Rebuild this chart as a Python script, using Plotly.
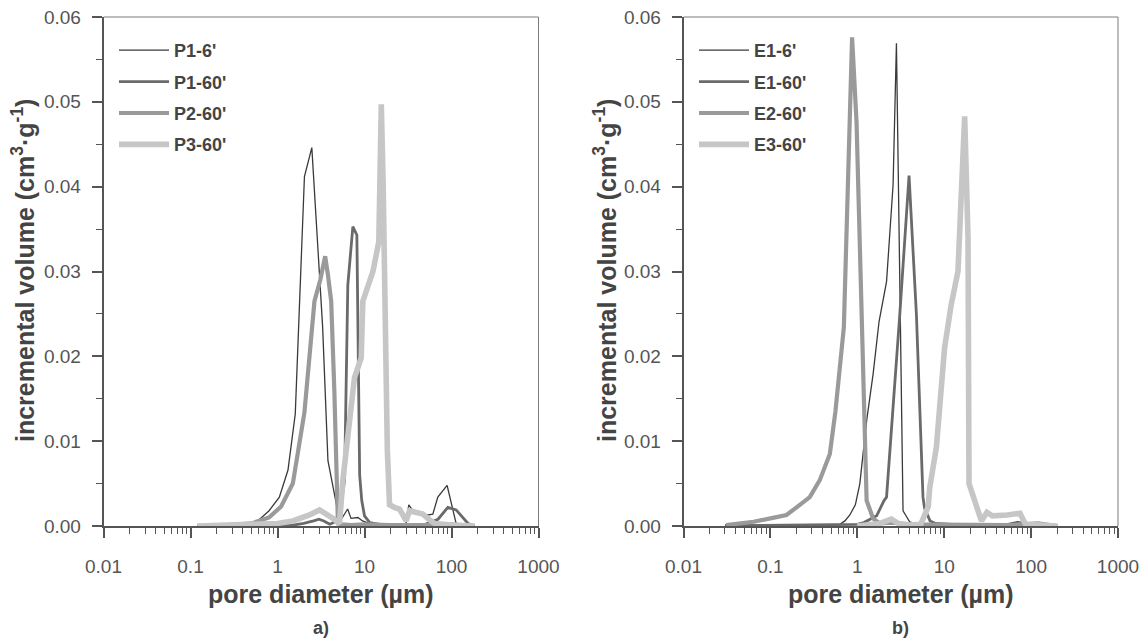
import plotly.graph_objects as go

# ---------------- data: panel a) ----------------
p1_6_x = [0.12, 0.3, 0.55, 0.8, 1.05, 1.32, 1.6, 2.04, 2.48, 3.3, 3.8, 4.35, 5.2, 6.4, 7.0, 8.4, 9.5, 12, 20, 30, 32.3, 37.6, 53.5, 61, 69.6, 89, 113, 150, 184]
p1_6_y = [0, 0, 0.0003, 0.0018, 0.0034, 0.0066, 0.0132, 0.0412, 0.0446, 0.0235, 0.0077, 0.0044, 0.0005, 0.002, 0.0009, 0.001, 0.0006, 0.0002, 0.0001, 0.0003, 0.0025, 0.0015, 0.0013, 0.0014, 0.0034, 0.0048, 0.0003, 0.0001, 0]

p1_60_x = [0.12, 0.5, 1.0, 1.5, 2.0, 2.6, 3.0, 3.4, 4.0, 4.6, 5.3, 5.9, 6.43, 7.35, 8.17, 8.8, 9.3, 10, 11.5, 15, 30, 50, 70, 90.8, 113, 155, 184]
p1_60_y = [0, 0, 0, 0.0001, 0.0003, 0.0006, 0.0008, 0.0006, 0.0002, 0.0005, 0.002, 0.0054, 0.0284, 0.0353, 0.0343, 0.006, 0.003, 0.0012, 0.0004, 0.0002, 0.0001, 0.0002, 0.0008, 0.0022, 0.0019, 0.0003, 0]

p2_60_x = [0.12, 0.3, 0.5, 0.8, 1.1, 1.5, 2.04, 2.33, 2.66, 3.1, 3.53, 3.8, 4.14, 4.5, 4.73, 4.95, 5.5, 7, 10, 20, 50, 80, 100, 130, 184]
p2_60_y = [0, 0.0001, 0.0003, 0.001, 0.0023, 0.005, 0.0134, 0.0195, 0.0265, 0.029, 0.0318, 0.0296, 0.0265, 0.016, 0.0058, 0.0003, 0.0002, 0.0001, 0.0002, 0.0001, 0.0001, 0.0002, 0.0002, 0.0001, 0]

p3_60_x = [0.12, 0.3, 0.6, 1.0, 1.5, 2.0, 2.33, 3.04, 3.6, 4.33, 5.16, 5.64, 6.5, 7.67, 9.16, 9.57, 12.5, 14.6, 15.6, 16.4, 18.3, 19.4, 22, 25.2, 28, 30.1, 32.9, 40, 46.8, 55, 63.8, 100, 184]
p3_60_y = [0, 0.0001, 0.0002, 0.0003, 0.0006, 0.001, 0.0013, 0.0019, 0.0015, 0.0009, 0.0003, 0.0054, 0.011, 0.0175, 0.0198, 0.0265, 0.030, 0.0335, 0.0497, 0.040, 0.009, 0.0025, 0.0022, 0.002, 0.0012, 0.0006, 0.0018, 0.0016, 0.0014, 0.0008, 0.0003, 0.0001, 0]

# ---------------- data: panel b) ----------------
e1_6_x = [0.03, 0.1, 0.3, 0.55, 0.63, 0.72, 0.82, 0.95, 1.07, 1.28, 1.52, 1.78, 2.17, 2.58, 2.82, 3.36, 4.0, 5, 8, 20, 50, 70, 90, 200]
e1_6_y = [0.0001, 0.0001, 0.0001, 0.0001, 0.0002, 0.0006, 0.0013, 0.0025, 0.0050, 0.0124, 0.0179, 0.0241, 0.0288, 0.0402, 0.0569, 0.0018, 0.0005, 0.0002, 0.0001, 0.0001, 0.0002, 0.0005, 0.0002, 0]

e1_60_x = [0.03, 0.5, 1.0, 1.19, 1.67, 2.03, 2.17, 3.08, 3.94, 4.79, 5.7, 5.94, 6.87, 8, 12, 30, 60, 75, 90, 200]
e1_60_y = [0, 0.0001, 0.0002, 0.0004, 0.0012, 0.003, 0.0034, 0.0249, 0.0413, 0.0249, 0.0034, 0.0021, 0.0006, 0.0003, 0.0002, 0.0001, 0.0002, 0.0004, 0.0001, 0]

e2_60_x = [0.031, 0.064, 0.1, 0.153, 0.2, 0.284, 0.37, 0.483, 0.56, 0.70, 0.871, 0.98, 1.28, 1.52, 1.8, 2.5, 4, 10, 50, 120, 200]
e2_60_y = [0.0001, 0.0005, 0.0009, 0.0013, 0.0022, 0.0034, 0.0054, 0.0085, 0.0135, 0.0234, 0.0576, 0.0476, 0.003, 0.0009, 0.0003, 0.0004, 0.0002, 0.0002, 0.0001, 0.0003, 0]

e3_60_x = [1.0, 1.82, 2.47, 3.08, 4.0, 5.37, 6.55, 6.81, 8.13, 10.1, 12, 14.4, 17.2, 18.8, 19.3, 22.1, 26.8, 31, 35.9, 53, 74.5, 86.2, 120, 200]
e3_60_y = [0, 0.0003, 0.0008, 0.0002, 0.0001, 0.0002, 0.0023, 0.0045, 0.0093, 0.021, 0.026, 0.030, 0.0483, 0.034, 0.005, 0.003, 0.0006, 0.0016, 0.0012, 0.0013, 0.0015, 0.0002, 0.0001, 0]

names_a = ["P1-6'", "P1-60'", "P2-60'", "P3-60'"]
names_b = ["E1-6'", "E1-60'", "E2-60'", "E3-60'"]

x_tickvals = [0.01, 0.1, 1, 10, 100, 1000]
x_ticktext = ["0.01", "0.1", "1", "10", "100", "1000"]

colors = ["#3a3a3a", "#6a6a6a", "#9a9a9a", "#c6c6c6"]
widths = [1.3, 2.8, 4.2, 5.6]

W, H = 1147, 642
TOP, BOT = 17, 526
fig = go.Figure()

series_a = [(p1_6_x, p1_6_y), (p1_60_x, p1_60_y), (p2_60_x, p2_60_y), (p3_60_x, p3_60_y)]
series_b = [(e1_6_x, e1_6_y), (e1_60_x, e1_60_y), (e2_60_x, e2_60_y), (e3_60_x, e3_60_y)]

for i, (xs, ys) in enumerate(series_a):
    fig.add_trace(go.Scatter(x=xs, y=ys, mode="lines", name=names_a[i],
                             line=dict(color=colors[i], width=widths[i]),
                             xaxis="x", yaxis="y", legend="legend", legendgroup="a%d" % i))
for i, (xs, ys) in enumerate(series_b):
    fig.add_trace(go.Scatter(x=xs, y=ys, mode="lines", name=names_b[i],
                             line=dict(color=colors[i], width=widths[i]),
                             xaxis="x2", yaxis="y2", legend="legend2", legendgroup="b%d" % i))

minor_vals = [m * 10.0 ** e for e in range(-2, 3) for m in range(2, 10)]
axcol = "#555555"
FONT = "Arial, Liberation Sans, sans-serif"
tickfont = dict(family=FONT, size=19, color="#555555")

def xaxis(domain, anchor):
    return dict(type="log", domain=domain, anchor=anchor, range=[-2, 3],
                tickmode="array", tickvals=x_tickvals, ticktext=x_ticktext,
                ticks="outside", ticklen=10, tickwidth=1.5, tickcolor=axcol,
                minor=dict(tickmode="array", tickvals=minor_vals, ticks="outside",
                           ticklen=6, tickwidth=1.2, tickcolor=axcol),
                showline=True, linecolor=axcol, linewidth=1.5, showgrid=False,
                zeroline=False, tickfont=tickfont, ticklabelstandoff=12,
                automargin=False, layer="below traces")

def yaxis(anchor):
    return dict(domain=[0, 1], anchor=anchor, range=[0, 0.06], dtick=0.01, tick0=0,
                tickformat=".2f", ticks="outside", ticklen=10, tickwidth=1.5, tickcolor=axcol,
                minor=dict(dtick=0.005, ticks="outside", ticklen=6, tickwidth=1.2, tickcolor=axcol),
                showline=True, linecolor=axcol, linewidth=1.5, showgrid=False,
                zeroline=False, tickfont=tickfont, ticklabelstandoff=7,
                automargin=False, layer="below traces")

dom_a = [103.5 / W, 538.5 / W]
dom_b = [683.5 / W, 1118 / W]

legfont = dict(family=FONT, size=18, color="#444444", weight="bold")
plot_h = BOT - TOP
def py(pix):
    return (BOT - pix) / plot_h

fig.update_layout(
    width=W, height=H,
    margin=dict(l=0, r=0, t=TOP, b=H - BOT, pad=0),
    paper_bgcolor="white", plot_bgcolor="white",
    xaxis=xaxis(dom_a, "y"), yaxis=yaxis("x"),
    xaxis2=xaxis(dom_b, "y2"), yaxis2=yaxis("x2"),
    legend=dict(x=114 / W, y=py(32), xanchor="left", yanchor="top", bgcolor="rgba(0,0,0,0)",
                font=legfont, tracegroupgap=5, itemwidth=50),
    legend2=dict(x=694 / W, y=py(32), xanchor="left", yanchor="top", bgcolor="rgba(0,0,0,0)",
                 font=legfont, tracegroupgap=5, itemwidth=50),
    showlegend=True,
)

# frame (top & right)
for xr, yr in (("x domain", "y domain"), ("x2 domain", "y2 domain")):
    fig.add_shape(type="line", xref=xr, yref=yr, x0=0, x1=1, y0=1, y1=1,
                  line=dict(color="#7a7a7a", width=1))
    fig.add_shape(type="line", xref=xr, yref=yr, x0=1, x1=1, y0=0, y1=1,
                  line=dict(color="#7a7a7a", width=1))

titlefont = dict(family=FONT, size=25, color="#444444", weight="bold")
ytitle = "incremental volume (cm<sup>3</sup>·g<sup>-1</sup>)"

for xc in (23, 605):
    fig.add_annotation(text=ytitle, x=xc / W, y=py(271), xref="paper", yref="paper",
                       textangle=-90, showarrow=False, font=titlefont,
                       xanchor="center", yanchor="middle")
for xc, lab in ((321, "a)"), (900.5, "b)")):
    fig.add_annotation(text="pore diameter (µm)", x=xc / W, y=py(594), xref="paper", yref="paper",
                       showarrow=False, font=titlefont, xanchor="center", yanchor="middle")
    fig.add_annotation(text=lab, x=xc / W, y=py(628), xref="paper", yref="paper",
                       showarrow=False, xanchor="center", yanchor="middle",
                       font=dict(family=FONT, size=18, color="#444444", weight="bold"))

fig.write_html("out.html")
